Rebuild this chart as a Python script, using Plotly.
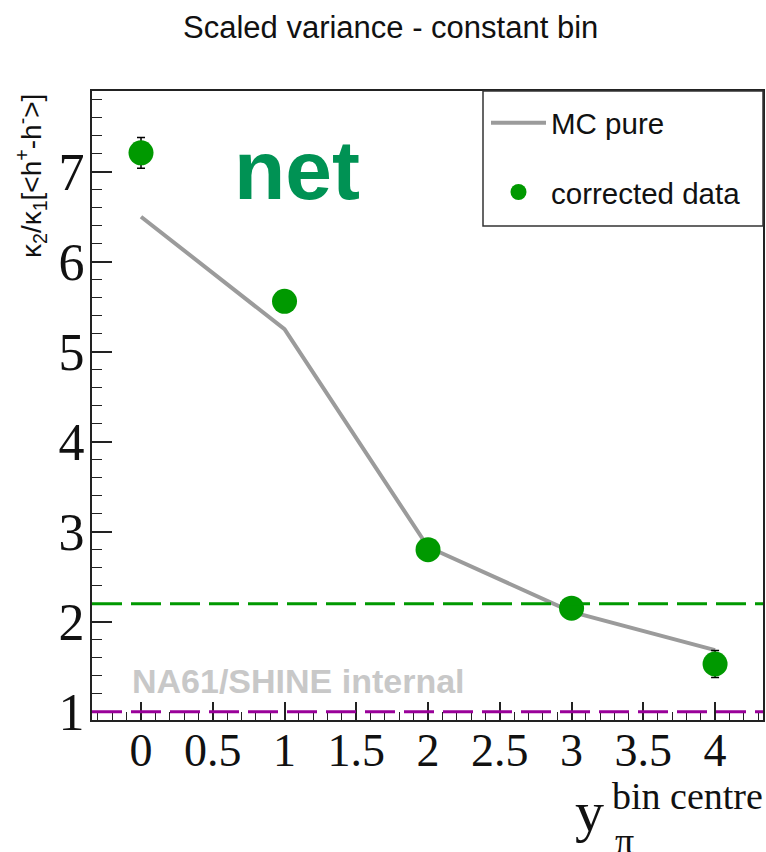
import plotly.graph_objects as go

# rapidity bin centres and measured values
bin_centre = [0, 1, 2, 3, 4]
corrected_data = [7.21, 5.56, 2.80, 2.15, 1.53]
corrected_err = [0.17, 0.10, 0.08, 0.08, 0.15]
mc_pure = [6.50, 5.25, 2.83, 2.11, 1.685]

# reference levels
green_level = 2.2
poisson_level = 1.0

x_range = [-0.3415, 4.334]
y_range = [0.9078, 7.897]

W, H = 766, 852
M_L, M_R, M_T, M_B = 92, 3, 91, 132
PW, PH = W - M_L - M_R, H - M_T - M_B


def px(x):
    return (x - M_L) / PW


def py(y):
    return (H - M_B - y) / PH


GREEN = "rgb(0,153,0)"
GRAY = "rgb(155,155,155)"
MAGENTA = "rgb(153,0,153)"

fig = go.Figure()

fig.add_trace(go.Scatter(
    x=bin_centre, y=mc_pure, mode="lines", name="MC pure",
    line=dict(color=GRAY, width=4), legendgroup="a",
))
fig.add_trace(go.Scatter(
    x=bin_centre, y=corrected_data, mode="markers", name="corrected data",
    marker=dict(color=GREEN, size=25, line=dict(width=0)),
    error_y=dict(type="data", array=corrected_err, color="black",
                 thickness=1.5, width=4),
    legendgroup="b",
))

shapes = [
    dict(type="line", xref="paper", x0=0, x1=1, yref="y",
         y0=green_level, y1=green_level,
         line=dict(color=GREEN, width=3, dash="30px,9px")),
    dict(type="line", xref="paper", x0=0, x1=1, yref="y",
         y0=poisson_level, y1=poisson_level,
         line=dict(color=MAGENTA, width=3, dash="30px,9px")),
    # legend frame
    dict(type="rect", xref="paper", yref="paper",
         x0=px(483), x1=1, y0=py(226), y1=1,
         line=dict(color="#333", width=1.5), fillcolor="rgba(0,0,0,0)"),
]

annotations = [
    dict(text="Scaled variance - constant bin", xref="paper", yref="paper",
         x=px(390), y=py(27), xanchor="center", yanchor="middle",
         showarrow=False, font=dict(family="Liberation Sans", size=31, color="#111")),
    dict(text="<b>net</b>", xref="paper", yref="paper",
         x=px(297), y=py(170), xanchor="center", yanchor="middle",
         showarrow=False, font=dict(family="Liberation Sans", size=84, color="rgb(0,146,84)")),
    dict(text="<b>NA61/SHINE internal</b>", xref="paper", yref="paper",
         x=px(130), y=py(681), xanchor="left", yanchor="middle",
         showarrow=False, font=dict(family="Liberation Sans", size=34, color="rgb(200,200,200)")),
    dict(text="κ<sub>2</sub>/κ<sub>1</sub>[&lt;h<sup>+</sup>-h<sup>-</sup>&gt;]",
         xref="paper", yref="paper", x=px(31), y=py(92), xanchor="center", yanchor="top",
         textangle=-90, showarrow=False,
         font=dict(family="Liberation Sans", size=28, color="#111")),
    dict(text="y", xref="paper", yref="paper", x=px(573), y=py(811),
         xanchor="left", yanchor="middle", showarrow=False,
         font=dict(family="Liberation Serif", size=58, color="#111")),
    dict(text="bin centre", xref="paper", yref="paper", x=px(610), y=py(796),
         xanchor="left", yanchor="middle", showarrow=False,
         font=dict(family="Liberation Serif", size=38, color="#111")),
    dict(text="π", xref="paper", yref="paper", x=px(613), y=py(841),
         xanchor="left", yanchor="middle", showarrow=False,
         font=dict(family="Liberation Serif", size=38, color="#111")),
]

fig.update_layout(
    width=W, height=H,
    margin=dict(l=M_L, r=M_R, t=M_T, b=M_B, pad=0, autoexpand=False),
    paper_bgcolor="white", plot_bgcolor="white",
    showlegend=True,
    legend=dict(x=px(486), y=py(97), xanchor="left", yanchor="top",
                font=dict(family="Liberation Sans", size=29.5, color="#111"),
                bgcolor="rgba(0,0,0,0)", borderwidth=0,
                tracegroupgap=28, itemwidth=55),
    shapes=shapes, annotations=annotations,
)

fig.update_xaxes(
    range=x_range, showgrid=False, zeroline=False, automargin=False,
    showline=True, linecolor="#222", linewidth=2, mirror=True,
    ticks="inside", ticklen=18, tickwidth=1.5, tickcolor="#222",
    tick0=0, dtick=0.5, tickangle=0,
    tickfont=dict(family="Liberation Serif", size=46, color="#111"),
    ticklabelstandoff=-11,
    minor=dict(ticks="inside", ticklen=8, tickwidth=1.2, tickcolor="#222", dtick=0.1, tick0=0),
)
fig.update_yaxes(
    range=y_range, showgrid=False, zeroline=False, automargin=False,
    showline=True, linecolor="#222", linewidth=2, mirror=True,
    ticks="inside", ticklen=20, tickwidth=1.5, tickcolor="#222",
    tick0=0, dtick=1,
    tickfont=dict(family="Liberation Serif", size=52, color="#111"),
    ticklabelstandoff=-5,
    minor=dict(ticks="inside", ticklen=10, tickwidth=1.2, tickcolor="#222", dtick=0.2, tick0=0),
)

fig.write_html("out.html")
